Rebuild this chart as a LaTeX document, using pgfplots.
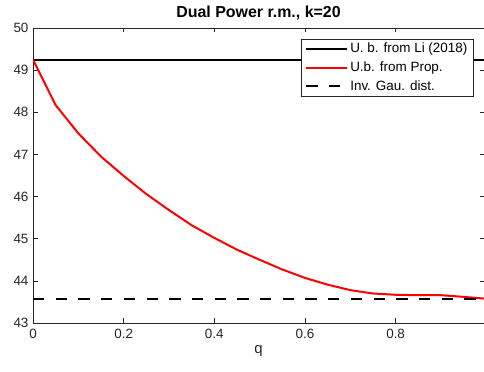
\documentclass[border=0pt]{standalone}
\usepackage{pgfplots}
\pgfplotsset{compat=1.18}
\usepackage{fontspec}
\setmainfont{Liberation Sans}
\definecolor{axgray}{gray}{0.15}
\begin{document}
\begin{tikzpicture}
\begin{axis}[
  at={(33bp,49bp)}, anchor=south west,
  scale only axis, width=451bp, height=295bp,
  xmin=0, xmax=0.995, ymin=43, ymax=50,
  xtick={0,0.2,0.4,0.6,0.8}, ytick={43,44,45,46,47,48,49,50},
  tick align=inside, major tick length=4.5bp,
  axis line style={axgray, line width=0.6bp},
  tick style={axgray, line width=0.6bp},
  ticklabel style={font=\fontsize{13.5}{15}\selectfont, text=axgray},
  xticklabel style={yshift=-3bp},
  yticklabel style={xshift=-1bp},
  /pgf/number format/assume math mode=true,
  title={\textbf{Dual Power r.m., k=20}},
  title style={font=\fontsize{16}{18}\selectfont, at={(0.5,1)}, anchor=south, yshift=-1bp},
  xlabel={q},
  xlabel style={font=\fontsize{15}{17}\selectfont, text=axgray, yshift=0bp},
  legend style={at={(0.976,0.963)}, anchor=north east, draw=axgray, line width=0.6bp,
    font=\fontsize{13.5}{15}\selectfont, cells={anchor=west}, row sep=3.5bp,
    inner xsep=3.5bp, inner ysep=2bp},
  legend image code/.code={\draw[#1] (0bp,0bp) -- (41bp,0bp);},
]
\addplot[black, line width=2bp] coordinates {(0,49.25) (0.995,49.25)};
\addlegendentry{U. b. from Li (2018)}
\addplot[red, line width=2bp] coordinates {
(0,49.25) (0.05,48.17) (0.1,47.50) (0.15,46.95) (0.2,46.49) (0.25,46.06)
(0.3,45.68) (0.35,45.32) (0.4,45.02) (0.45,44.74) (0.5,44.50) (0.55,44.27)
(0.6,44.07) (0.65,43.91) (0.7,43.78) (0.75,43.70) (0.8,43.67) (0.85,43.66)
(0.9,43.66) (0.95,43.62) (0.995,43.58)};
\addlegendentry{U.b. from Prop.}
\addplot[black, dash pattern=on 11.3bp off 11.4bp, line width=2bp] coordinates {(0,43.57) (0.995,43.57)};
\addlegendentry{Inv. Gau. dist.}
\end{axis}
\pgfresetboundingbox
\path[use as bounding box] (0,0) rectangle (484bp,372bp);
\end{tikzpicture}
\end{document}
